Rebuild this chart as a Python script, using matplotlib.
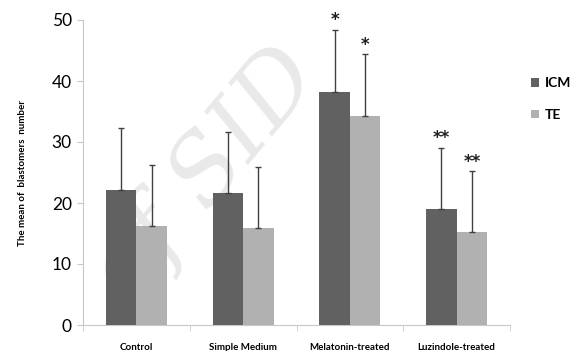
import matplotlib
matplotlib.use("Agg")
import matplotlib.pyplot as plt
import numpy as np

categories = ["Control", "Simple Medium", "Melatonin-treated", "Luzindole-treated"]
icm = [22.2, 21.6, 38.2, 19.0]
te = [16.2, 15.9, 34.3, 15.3]
icm_err = [10.1, 10.0, 10.2, 10.0]
te_err = [10.1, 10.0, 10.1, 9.9]
icm_sig = ["", "", "*", "**"]
te_sig = ["", "", "*", "**"]
yticks = [0, 10, 20, 30, 40, 50]

plt.rcParams['font.family'] = ['Lato', 'DejaVu Sans']

fig = plt.figure(figsize=(5.7, 3.51), dpi=100)
ax = fig.add_axes([83/570, (351-325)/351, (510-83)/570, (325-20)/351])
ax.set_zorder(1)
ax.patch.set_alpha(0)

x = np.arange(len(categories))
w = 0.285
c_icm = '#616161'
c_te = '#b1b1b1'
ax.bar(x - w/2, icm, w, color=c_icm, zorder=3, label='ICM')
ax.bar(x + w/2, te, w, color=c_te, zorder=3, label='TE')
ax.errorbar(x - w/2, icm, yerr=[np.zeros(4), icm_err], fmt='none', ecolor='#404040',
            elinewidth=1.0, capsize=2.5, capthick=1.0, zorder=4)
ax.errorbar(x + w/2, te, yerr=[np.zeros(4), te_err], fmt='none', ecolor='#404040',
            elinewidth=1.0, capsize=2.5, capthick=1.0, zorder=4)
for i in range(4):
    if icm_sig[i]:
        ax.text(x[i] - w/2, icm[i] + icm_err[i] + 0.1, icm_sig[i], ha='center', va='bottom',
                fontsize=12, fontweight='bold', family='DejaVu Sans', color='#202020', zorder=5)
    if te_sig[i]:
        ax.text(x[i] + w/2, te[i] + te_err[i] + 0.1, te_sig[i], ha='center', va='bottom',
                fontsize=12, fontweight='bold', family='DejaVu Sans', color='#202020', zorder=5)

ax.set_xlim(-0.5, 3.5)
ax.set_ylim(0, 50)
ax.set_yticks(yticks)
ax.set_yticklabels([str(t) for t in yticks], fontsize=12.5)
ax.set_xticks(x)
ax.set_xticklabels(categories, fontsize=7, fontweight='bold')
ax.tick_params(axis='x', length=0, pad=13)
ax.set_xticks(np.arange(-0.5, 4.0, 1.0), minor=True)
ax.tick_params(axis='x', which='minor', length=4, color='#c8c8c8')
ax.tick_params(axis='y', length=4, color='#c8c8c8', pad=4)
for s in ['top', 'right']:
    ax.spines[s].set_visible(False)
for s in ['left', 'bottom']:
    ax.spines[s].set_color('#c8c8c8')
ax.set_ylabel("The mean of  blastomers  number", fontsize=7, fontweight='bold', labelpad=18)

leg = ax.legend(loc='upper left', bbox_to_anchor=(1.035, 0.83), frameon=False,
                fontsize=10, handlelength=0.6, handleheight=0.6, labelspacing=1.4,
                handletextpad=0.4, borderaxespad=0)
for t in leg.get_texts():
    t.set_fontweight('bold')

fig.text(0.36, 0.5, "of SID", fontsize=68, family='DejaVu Serif', style='italic',
         rotation=50, color='#e9e9e9', ha='center', va='center', zorder=0)

fig.savefig("out.png", dpi=100)
